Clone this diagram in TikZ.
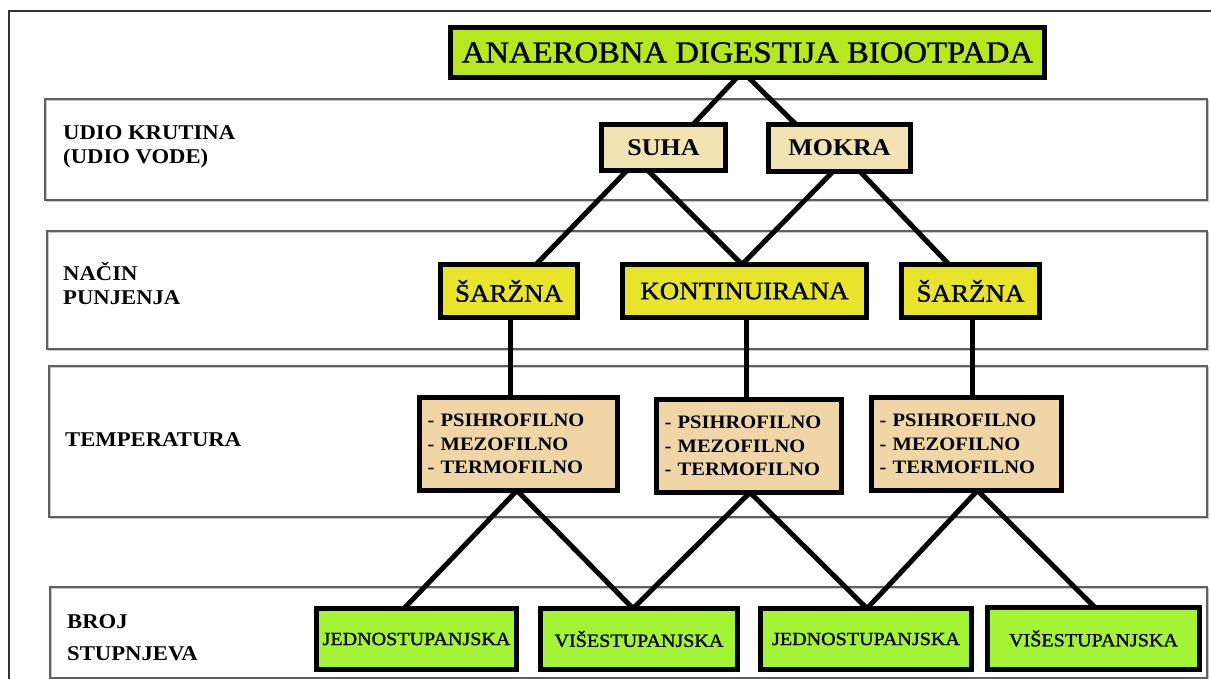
\documentclass[tikz,border=0pt]{standalone}
\usepackage{fontspec}
\setmainfont{Liberation Serif}[FakeStretch=1.08]
\newfontfamily\semib{Liberation Serif}[FakeStretch=1.08, FakeBold=1.2]
\usetikzlibrary{calc}
\pgfdeclarelayer{bands}
\pgfdeclarelayer{links}
\pgfsetlayers{bands,links,main}
\definecolor{limeA}{RGB}{182,232,30}
\definecolor{beigeA}{RGB}{242,228,178}
\definecolor{yellowA}{RGB}{232,228,42}
\definecolor{tanA}{RGB}{240,214,166}
\definecolor{greenA}{RGB}{163,244,52}
\definecolor{bandgray}{RGB}{95,95,95}
\definecolor{bandshadow}{RGB}{200,200,200}
\begin{document}
\begin{tikzpicture}[x=1pt,y=-1pt,
  box/.style={draw=black, line width=5pt, inner sep=0pt, outer sep=0pt, anchor=center, text=black},
  titlebox/.style={box, fill=limeA, font=\fontsize{30.3}{36}\selectfont\semib},
  wetbox/.style={box, fill=beigeA, font=\fontsize{24}{28}\selectfont\bfseries},
  loadbox/.style={box, fill=yellowA, font=\fontsize{25}{30}\selectfont\semib},
  tempbox/.style={box, fill=tanA, inner xsep=8pt, align=left, font=\fontsize{19}{23.5}\selectfont\bfseries},
  stagebox/.style={box, fill=greenA, font=\fontsize{18.6}{23}\selectfont\semib},
  lab/.style={anchor=base west, inner sep=0pt, font=\fontsize{21}{25}\selectfont\bfseries},
  band/.style={draw=bandgray, line width=1.3pt},
  bandsh/.style={draw=bandshadow, line width=1.3pt},
  conn/.style={draw=black, line width=5pt}
]
\useasboundingbox (0,0) rectangle (1211,679);
\clip (0,0) rectangle (1211,679);

\begin{pgfonlayer}{bands}
\fill[white] (0,0) rectangle (1211,679);
\draw[draw=black!80, line width=2pt] (1230,11) -- (8.5,11) -- (8.5,700);
\draw[bandsh] (46.5,100.5) rectangle (1208.5,201.5);
\draw[band] (45,99) rectangle (1207,200);
\draw[bandsh] (48.5,232.5) rectangle (1208.5,350.5);
\draw[band] (47,231) rectangle (1207,349);
\draw[bandsh] (50.5,367.5) rectangle (1208.5,518.5);
\draw[band] (49,366) rectangle (1207,517);
\draw[bandsh] (51.5,588.5) rectangle (1208.5,679.5);
\draw[band] (50,587) rectangle (1207,678);
\end{pgfonlayer}

% left labels
\node[lab] (l1a) at (63,140) {UDIO KRUTINA};
\node[lab] (l1b) at (63,164) {(UDIO VODE)};
\node[lab] (l2a) at (63,280) {NAČIN};
\node[lab] (l2b) at (63,305) {PUNJENJA};
\node[lab] (l3) at (65,446) {TEMPERATURA};
\node[lab] (l4a) at (67,628) {BROJ};
\node[lab] (l4b) at (67,660) {STUPNJEVA};

% boxes
\node[titlebox, minimum width=594pt, minimum height=50pt] (title) at (747.5,52.5) {ANAEROBNA DIGESTIJA BIOOTPADA};
\node[wetbox, minimum width=124pt, minimum height=46pt] (suha) at (663.5,147.5) {SUHA};
\node[wetbox, minimum width=142pt, minimum height=47pt] (mokra) at (839.5,148) {MOKRA};
\node[loadbox, minimum width=137pt, minimum height=53pt] (s1) at (509,291) {ŠARŽNA};
\node[loadbox, minimum width=244pt, minimum height=53pt] (kont) at (744.5,291) {KONTINUIRANA};
\node[loadbox, minimum width=138pt, minimum height=53pt] (s2) at (970.5,291) {ŠARŽNA};
\node[tempbox, text width=182pt, minimum height=93pt] (t1) at (518.5,444) {- PSIHROFILNO\\- MEZOFILNO\\- TERMOFILNO};
\node[tempbox, text width=169pt, minimum height=93pt] (t2) at (749,446) {- PSIHROFILNO\\- MEZOFILNO\\- TERMOFILNO};
\node[tempbox, text width=174pt, minimum height=93pt] (t3) at (966.5,444) {- PSIHROFILNO\\- MEZOFILNO\\- TERMOFILNO};
\node[stagebox, minimum width=200pt, minimum height=61pt] (j1) at (416.5,639) {JEDNOSTUPANJSKA};
\node[stagebox, minimum width=197pt, minimum height=61pt] (v1) at (639,639) {VIŠESTUPANJSKA};
\node[stagebox, minimum width=211pt, minimum height=61pt] (j2) at (866,639) {JEDNOSTUPANJSKA};
\node[stagebox, minimum width=212pt, minimum height=62pt] (v2) at (1093.5,638.5) {VIŠESTUPANJSKA};

% connectors
\begin{pgfonlayer}{links}
\draw[conn] ([xshift=-10.5pt]title.south) -- ([xshift=29.5pt]suha.north);
\draw[conn] ([xshift=1pt]title.south) -- ([xshift=-43.5pt]mokra.north);
\draw[conn] ([xshift=-36.5pt]suha.south) -- ([xshift=27pt]s1.north);
\draw[conn] ([xshift=-15.5pt]suha.south) -- ([xshift=-2.5pt]kont.north);
\draw[conn] ([xshift=-6.5pt]mokra.south) -- ([xshift=-2.5pt]kont.north);
\draw[conn] ([xshift=20.5pt]mokra.south) -- ([xshift=-21.5pt]s2.north);
\draw[conn] ([xshift=1pt]s1.south) -- ([xshift=1pt]s1.south |- t1.north);
\draw[conn] ([xshift=1.5pt]kont.south) -- ([xshift=1.5pt]kont.south |- t2.north);
\draw[conn] ([xshift=1.5pt]s2.south) -- ([xshift=1.5pt]s2.south |- t3.north);
\draw[conn] ([xshift=-1.5pt]t1.south) -- ([xshift=-12.5pt]j1.north);
\draw[conn] ([xshift=-1.5pt]t1.south) -- ([xshift=-6pt]v1.north);
\draw[conn] ([xshift=1pt]t2.south) -- ([xshift=-6pt]v1.north);
\draw[conn] ([xshift=1pt]t2.south) -- ([xshift=1pt]j2.north);
\draw[conn] ([xshift=11pt]t3.south) -- ([xshift=1pt]j2.north);
\draw[conn] ([xshift=11pt]t3.south) -- ([xshift=1.5pt]v2.north);
\end{pgfonlayer}
\end{tikzpicture}
\end{document}
